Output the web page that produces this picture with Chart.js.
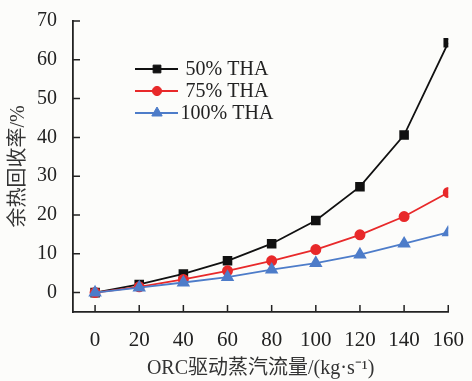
<!DOCTYPE html>
<html>
<head>
<meta charset="utf-8">
<script src="https://cdn.jsdelivr.net/npm/chart.js@4/dist/chart.umd.min.js"></script>
<style>
  html, body { margin: 0; padding: 0; background: #fcfcfa; }
  #wrap { width: 472px; height: 381px; }
</style>
</head>
<body>
<div id="wrap"><canvas id="myChart" width="472" height="381"></canvas></div>
<script>
var flow = [0, 20, 40, 60, 80, 100, 120, 140, 160];
var tha50 = [0, 2.1, 4.8, 8.2, 12.6, 18.6, 27.3, 40.6, 64.4];
var tha75 = [0, 1.5, 3.4, 5.6, 8.2, 11.1, 14.9, 19.6, 25.8];
var tha100 = [0, 1.3, 2.6, 4.0, 5.9, 7.6, 9.8, 12.6, 15.5];
var xTicks = [0, 20, 40, 60, 80, 100, 120, 140, 160];
var yTicks = [0, 10, 20, 30, 40, 50, 60, 70];
var names = ["50% THA", "75% THA", "100% THA"];

var serif = "'Liberation Serif', 'Times New Roman', 'Noto Sans CJK SC', serif";
var ink = "#222";

function pts(ys) {
  return flow.map(function (x, i) { return { x: x, y: ys[i] }; });
}

function series(label, ys, color, style, r, order) {
  return {
    label: label,
    data: pts(ys),
    borderColor: color,
    backgroundColor: color,
    pointBackgroundColor: color,
    pointBorderColor: color,
    pointStyle: style,
    pointRadius: r,
    borderWidth: 1.8,
    tension: 0,
    order: order,
  };
}

// inward tick marks, legend inside the plot, axis titles
var decor = {
  id: "decor",
  beforeDraw: function (chart) {
    var ctx = chart.ctx;
    ctx.save();
    ctx.fillStyle = "#fcfcfa";
    ctx.fillRect(0, 0, chart.width, chart.height);
    ctx.restore();
  },
  afterDraw: function (chart) {
    var ctx = chart.ctx;
    var xs = chart.scales.x;
    var ys = chart.scales.y;
    var area = chart.chartArea;
    ctx.save();
    ctx.strokeStyle = ink;
    ctx.lineWidth = 1.5;
    ctx.beginPath();
    xTicks.forEach(function (v) {
      var px = xs.getPixelForValue(v);
      ctx.moveTo(px, area.bottom);
      ctx.lineTo(px, area.bottom - 7);
    });
    yTicks.forEach(function (v) {
      var py = ys.getPixelForValue(v);
      ctx.moveTo(area.left, py);
      ctx.lineTo(area.left + 7, py);
    });
    ctx.stroke();

    // legend
    var rowY = [69, 91, 113];
    chart.data.datasets.forEach(function (ds, i) {
      var y = rowY[i];
      ctx.strokeStyle = ds.borderColor;
      ctx.lineWidth = ds.borderWidth;
      ctx.beginPath();
      ctx.moveTo(135, y);
      ctx.lineTo(178, y);
      ctx.stroke();
      ctx.fillStyle = ds.pointBackgroundColor;
      ctx.strokeStyle = ds.pointBorderColor;
      ctx.lineWidth = 1;
      Chart.helpers.drawPoint(ctx, { pointStyle: ds.pointStyle, radius: ds.pointRadius, rotation: 0, borderWidth: 1 }, 157, y);
      ctx.fillStyle = ink;
      ctx.font = "20px " + serif;
      ctx.textAlign = "center";
      ctx.textBaseline = "middle";
      ctx.fillText(ds.label, 227, y + 1);
    });

    // axis titles
    ctx.fillStyle = "#333";
    ctx.font = "20px " + serif;
    ctx.textAlign = "center";
    ctx.textBaseline = "middle";
    ctx.fillText("ORC驱动蒸汽流量/(kg·s⁻¹)", (area.left + area.right) / 2, 369);
    ctx.translate(19, (area.top + area.bottom) / 2);
    ctx.rotate(-Math.PI / 2);
    ctx.fillText("余热回收率/%", 0, 0);
    ctx.restore();
  },
};

new Chart(document.getElementById("myChart").getContext("2d"), {
  type: "line",
  data: {
    datasets: [
      series(names[0], tha50, "#111111", "rect", 5.5, 2),
      series(names[1], tha75, "#e8292a", "circle", 4.6, 1),
      series(names[2], tha100, "#4d7cc9", "triangle", 6, 0),
    ],
  },
  options: {
    responsive: false,
    animation: false,
    layout: { padding: { top: 21, right: 17, bottom: 0, left: 0 } },
    plugins: { legend: { display: false }, tooltip: { enabled: false } },
    scales: {
      x: {
        type: "linear",
        min: -10,
        max: 160,
        afterBuildTicks: function (s) { s.ticks = xTicks.map(function (v) { return { value: v }; }); },
        afterFit: function (s) { s.height = 69; },
        grid: { display: false },
        border: { display: true, color: ink, width: 1.8 },
        ticks: { color: ink, padding: 8, maxRotation: 0, autoSkip: false, font: { family: serif, size: 21 } },
      },
      y: {
        min: -5,
        max: 70,
        afterBuildTicks: function (s) { s.ticks = yTicks.map(function (v) { return { value: v }; }); },
        afterFit: function (s) { s.width = 73; },
        grid: { display: false },
        border: { display: true, color: ink, width: 1.8 },
        ticks: { color: ink, padding: 8, font: { family: serif, size: 20 } },
      },
    },
  },
  plugins: [decor],
});
</script>
</body>
</html>
